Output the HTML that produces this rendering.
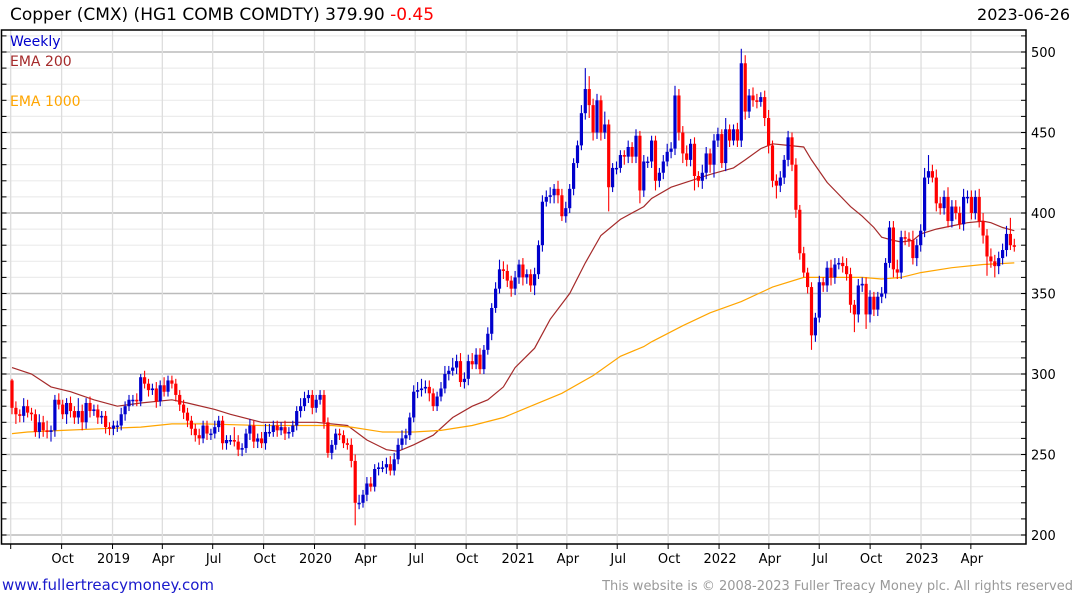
<!DOCTYPE html>
<html><head><meta charset="utf-8"><style>
body{margin:0;background:#fff;width:1075px;height:600px;overflow:hidden;font-family:"Liberation Sans","DejaVu Sans",sans-serif}
svg{display:block}
</style></head><body>
<svg id="chart" width="1075" height="600" xmlns="http://www.w3.org/2000/svg">
<text x="10" y="20" font-size="17" font-family="DejaVu Sans, sans-serif" fill="#000">Copper (CMX) (HG1 COMB COMDTY) 379.90 <tspan fill="#f00">-0.45</tspan></text>
<text x="1070" y="20" font-size="16" font-family="DejaVu Sans, sans-serif" text-anchor="end" fill="#000">2023-06-26</text>
<g id="grid"></g><g id="ema"></g><g id="candles"></g><g id="axes"></g>
<text x="10" y="46" font-size="14" font-family="DejaVu Sans, sans-serif" fill="#0000cc">Weekly</text>
<text x="10" y="66" font-size="14" font-family="DejaVu Sans, sans-serif" fill="#a52a2a">EMA 200</text>
<text x="10" y="106" font-size="14" font-family="DejaVu Sans, sans-serif" fill="#ffa500">EMA 1000</text>
<text x="2" y="590" font-size="15" font-family="DejaVu Sans, sans-serif" fill="#1a1acc">www.fullertreacymoney.com</text>
<text x="1073" y="590" font-size="13" font-family="DejaVu Sans, sans-serif" text-anchor="end" fill="#999">This website is © 2008-2023 Fuller Treacy Money plc. All rights reserved</text>
</svg>
<script>
const closes=[279,275,274,280,276,275,264,270,265,264,
265,284,281,275,282,277,273,277,270,282,
277,278,273,274,267,266,268,268,275,280,
284,284,283,298,294,290,291,283,293,289,
296,294,287,281,276,271,266,262,260,268,
263,263,267,271,257,259,259,258,253,254,
263,268,258,260,257,264,264,268,265,267,
263,264,268,277,280,285,287,279,284,287,
270,251,256,263,262,257,256,246,220,220,
225,232,230,241,242,242,244,240,247,256,
260,262,273,289,290,291,292,288,280,286,
291,300,302,304,308,295,297,308,306,312,
303,315,325,341,353,365,364,358,353,360,
368,360,362,355,362,380,407,410,411,415,
411,398,403,415,431,442,462,477,467,450,
470,450,455,416,428,428,436,435,441,435,
448,414,432,432,445,420,425,432,438,440,
473,450,437,433,443,423,420,425,437,430,
445,449,431,452,445,452,445,493,463,473,
470,469,472,459,442,420,417,422,433,447,
430,402,375,363,354,324,335,357,355,366,
360,368,369,367,362,343,337,355,356,337,
348,340,348,350,369,391,365,363,385,384,
383,372,380,389,422,426,422,406,403,410,
395,404,400,393,410,410,400,410,395,386,
373,370,367,372,377,387,380,379];
const firstOpen=296;
const hiExt=[1,4,3,5,4,3,3,5,4,6,3,3,4,3,3,4,3,8,4,3,4,3,3,3,3,3,3,3,4,3,3,3,4,2,4,3,3,4,3,5,
3,3,3,3,3,3,3,3,4,3,3,3,4,3,3,3,3,8,4,3,3,4,3,3,4,5,5,3,3,3,4,3,3,3,5,4,3,3,3,3,
3,3,3,3,3,3,3,4,4,5,3,4,4,3,3,4,4,5,4,4,5,4,3,4,5,6,4,4,3,3,4,5,3,6,4,5,4,4,5,4,
4,3,4,3,4,6,5,4,3,4,3,4,3,3,4,3,4,4,5,3,5,4,4,3,3,3,5,13,8,4,4,3,8,3,3,4,3,3,4,3,
4,3,4,3,3,3,3,4,5,4,6,4,4,5,3,4,3,5,4,3,4,4,3,7,3,3,4,9,5,4,5,4,3,4,5,3,4,4,3,4,
3,4,3,4,3,3,3,4,3,4,5,4,3,4,5,4,3,4,4,4,4,3,3,4,3,4,4,6,4,4,4,6,4,4,6,10,4,5,4,4,
6,4,4,4,5,4,4,4,5,5,4,5,4,4,4,5,10,4];
const loExt=[4,6,4,4,3,4,3,4,4,4,6,4,3,3,6,4,4,4,5,4,4,3,4,4,4,4,4,4,3,4,3,4,3,3,3,4,3,4,3,3,
3,3,4,4,4,4,4,4,4,3,4,4,3,3,4,4,3,3,4,4,3,4,4,4,3,4,3,3,4,3,4,3,3,3,4,3,3,4,3,3,
4,3,4,3,3,3,3,4,14,4,3,4,3,3,4,3,4,3,3,3,3,4,3,3,4,4,3,5,3,3,3,3,4,3,4,3,4,4,3,3,
3,3,3,4,3,3,5,4,5,4,4,5,4,4,6,3,4,3,4,5,5,3,4,3,4,3,3,4,8,5,4,5,4,15,3,4,3,5,4,4,
4,8,4,4,4,6,4,4,3,4,4,5,6,4,4,9,4,5,4,5,8,4,3,5,4,3,4,4,5,4,4,4,3,5,5,4,8,4,4,4,
4,5,4,3,4,9,4,3,4,4,5,4,3,4,4,5,11,5,4,9,5,4,4,4,3,3,5,4,4,4,4,4,5,4,4,4,3,5,4,4,
4,4,4,3,4,4,4,4,4,5,12,4,7,5,4,4,3,3];
const ema200Weeks=[0,5,10,15,21,27,33,41,45,52,56,64,72,78,86,91,96,99,103,108,113,118,122,126,129,134,138,143,147,151,156,162,164,169,174,179,185,188,192,195,199,203,205,209,213,215,218,221,223,226,228,231,233,237,241,245,249,251,254,257];
const ema200Vals=[304,300,292,289,284,280,282,284,282,278,275,270,270,270,268,259,253,252,256,262,273,280,284,292,304,316,334,350,369,386,396,404,409,416,420,424,428,433,440,443,442,441,433,419,409,404,398,391,385,383,382,383,387,390,392,394,395,394,391,389];
const ema1000Weeks=[0,4,13,23,33,41,49,64,74,82,87,95,103,110,118,126,133,141,149,156,162,164,172,179,187,195,203,210,218,223,228,233,241,249,257];
const ema1000Vals=[263,264,265,266,267,269,269,268,268,268,267,264,264,265,268,273,280,288,299,311,317,320,330,338,345,354,360,360,360,359,360,363,366,368,369];
const yTicks=[200,250,300,350,400,450,500];
const xLabels=["Oct","2019","Apr","Jul","Oct","2020","Apr","Jul","Oct","2021","Apr","Jul","Oct","2022","Apr","Jul","Oct","2023","Apr"];
const xLabelDays=[92,184,274,365,457,549,640,731,823,915,1005,1096,1188,1280,1370,1461,1553,1645,1735];

const NS="http://www.w3.org/2000/svg";
const L=1.5,R=1026,T=30,B=544;
function y(v){return 52+(500-v)*1.61;}
function xw(w){return 12+3.9*w;}
function xd(d){return 10.7+d*0.5534;}
function mk(tag,attrs,parent){const e=document.createElementNS(NS,tag);for(const k in attrs)e.setAttribute(k,attrs[k]);parent.appendChild(e);return e;}
const grid=document.getElementById('grid'),axes=document.getElementById('axes'),cg=document.getElementById('candles'),eg=document.getElementById('ema');
for(let v=200;v<=510;v+=10){if(y(v)<T)continue;const ln=mk('line',{x1:L,x2:R,y1:y(v),y2:y(v),stroke:v%50===0?'#bbb':'#ececec','stroke-width':v%50===0?1.4:1.2},grid);


const t1=mk('line',{x1:L,x2:L+5,y1:y(v),y2:y(v),stroke:'#000'},axes);


const t2=mk('line',{x1:R-5,x2:R,y1:y(v),y2:y(v),stroke:'#000'},axes);

}
const vx=[xd(0)].concat(xLabelDays.map(xd));
vx.forEach((x,i)=>{const g=mk('line',{x1:x,x2:x,y1:T,y2:B,stroke:'#ddd','stroke-width':1.3},grid);


const tk=mk('line',{x1:x,x2:x,y1:B,y2:B+5,stroke:'#000'},axes);

});
xLabels.forEach((s,i)=>{const t=mk('text',{x:xd(xLabelDays[i])+1,y:B+19,'font-size':13,'font-family':'DejaVu Sans, sans-serif','text-anchor':'middle',fill:'#000'},axes);t.textContent=s;

});
yTicks.forEach(v=>{const t=mk('text',{x:R+5,y:y(v)+5,'font-size':13,'font-family':'DejaVu Sans, sans-serif',fill:'#000'},axes);t.textContent=v;

});
const fr=mk('rect',{x:L,y:T,width:R-L,height:B-T,fill:'none',stroke:'#000','stroke-width':1.5},axes);


function emaLine(ws,vs,col,name){const pts=ws.map((w,i)=>xw(w).toFixed(1)+','+y(vs[i]).toFixed(1)).join(' ');
const p=mk('polyline',{points:pts,fill:'none',stroke:col,'stroke-width':1.2},eg);

}
emaLine(ema200Weeks,ema200Vals,'#a52a2a','ema-200-line');
emaLine(ema1000Weeks,ema1000Vals,'#ffa500','ema-1000-line');
closes.forEach((c,i)=>{const o=i===0?firstOpen:closes[i-1];const hi=Math.max(o,c)+hiExt[i],lo=Math.min(o,c)-loExt[i];
const col=c>=o?'#0000cc':'#ff0000';const x=xw(i);
const g=mk('g',{},cg);


mk('line',{x1:x,x2:x,y1:y(hi),y2:y(lo),stroke:col,'stroke-width':1.1},g);
const top=y(Math.max(o,c)),h=Math.max(1.5,y(Math.min(o,c))-top);
mk('rect',{x:x-1.6,y:top,width:3.2,height:h,fill:col},g);});
</script>
</body></html>
